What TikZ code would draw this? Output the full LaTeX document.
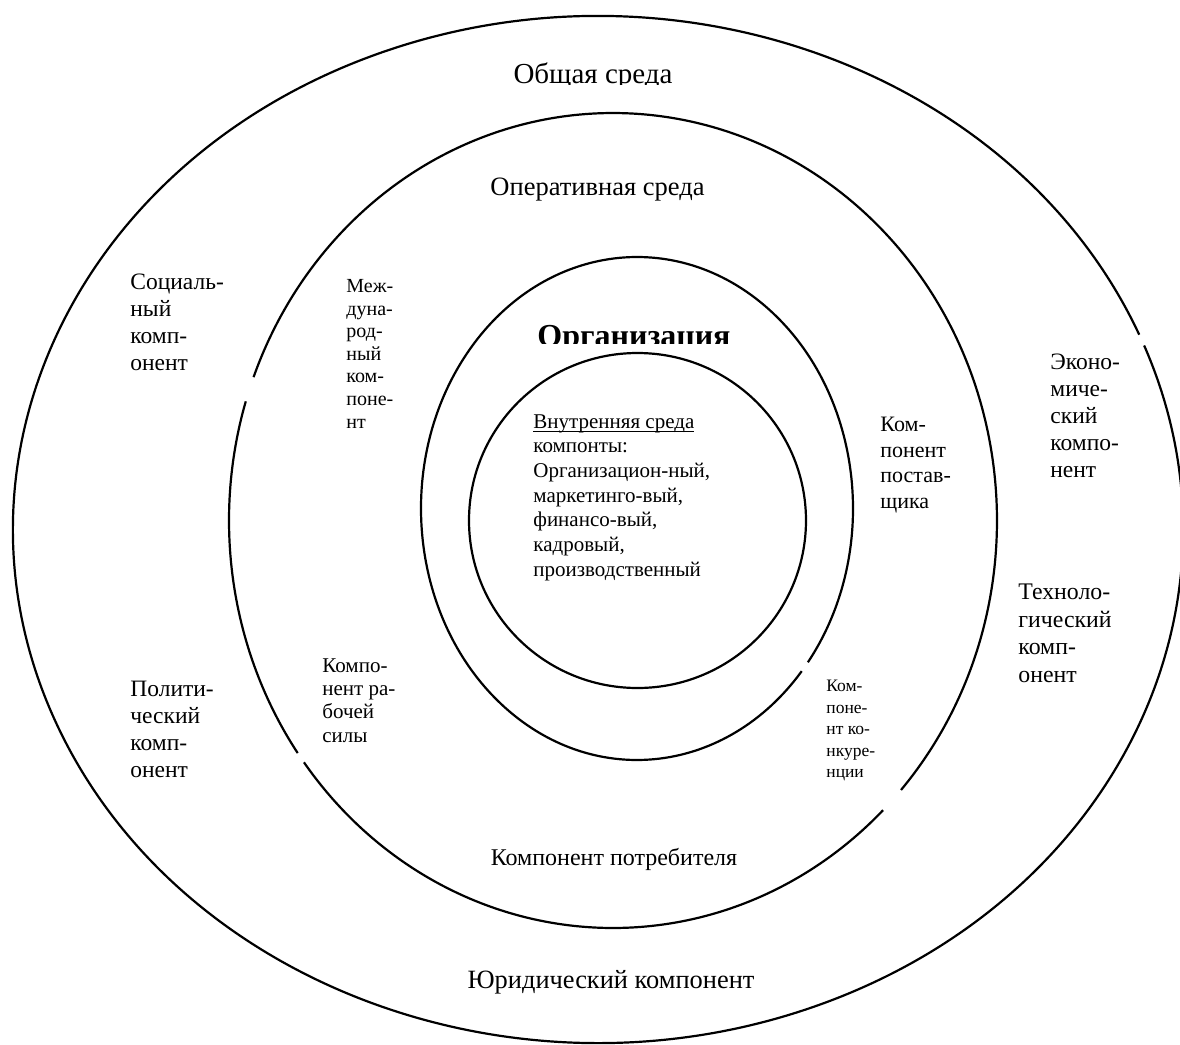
\documentclass[tikz,border=0pt]{standalone}
\usepackage{fontspec}
\setmainfont{Liberation Serif}
\usetikzlibrary{positioning}
\newcommand{\ulinetext}[1]{\setbox0\hbox{#1}\rlap{\rule[-0.2em]{\wd0}{0.06em}}\box0}

\begin{document}
\begin{tikzpicture}[x=0.5pt,y=0.5pt,
        ring/.style={line width=1.1pt},
        sidetext/.style={inner sep=0pt,align=left,anchor=north west},
        midtext/.style={inner sep=0pt,anchor=base}]
        \useasboundingbox (0,0) rectangle (1180,-1045);
        \coordinate (Cgen) at (598,-529.5);
        \coordinate (Cop) at (613,-520.5);
        \coordinate (Corg) at (637,-508.5);
        \coordinate (Cin) at (637.5,-520.5);
        % rings, with the small breaks of the original
        \draw[ring] ([shift={(Cgen)}]22.3:585 and 513.5) arc[start angle=22.3, end angle=381, x radius=585, y radius=513.5];
        \draw[ring] ([shift={(Cop)}]318.6:384 and 407.5) arc[start angle=318.6, end angle=519.4, x radius=384, y radius=407.5];
        \draw[ring] ([shift={(Cop)}]163:384 and 407.5) arc[start angle=163, end angle=214.8, x radius=384, y radius=407.5];
        \draw[ring] ([shift={(Cop)}]216.4:384 and 407.5) arc[start angle=216.4, end angle=314.7, x radius=384, y radius=407.5];
        \draw[ring] ([shift={(Corg)}]322.3:216 and 251.5) arc[start angle=322.3, end angle=679.7, x radius=216, y radius=251.5];
        \draw[ring] (Cin) ellipse[x radius=168.5, y radius=167.5];
        \begin{scope}
            \clip (400,-40) rectangle (800,-84);
            \node[midtext,font=\fontsize{14.5pt}{17pt}\selectfont] (gen) at (593,-83) {Общая среда};
        \end{scope}
        \begin{scope}
            \clip (480,-300) rectangle (780,-343);
            \node[midtext,font=\fontsize{16pt}{19pt}\selectfont\bfseries] (org) at (634,-346) {Организация};
        \end{scope}
        \node[midtext,font=\fontsize{13.25pt}{15pt}\selectfont] (oper) at (597.5,-195) {Оперативная среда};
        \node[midtext,font=\fontsize{12pt}{14pt}\selectfont] (cons) at (614,-865) {Компонент потребителя};
        \node[midtext,font=\fontsize{13.2pt}{15pt}\selectfont] (legal) at (611,-988) {Юридический компонент};
        \node[sidetext,font=\fontsize{11.75pt}{13.5pt}\selectfont] (soc) at (130,-274) {Социаль-\\ный\\комп-\\онент};
        \node[sidetext,font=\fontsize{11.75pt}{13.5pt}\selectfont] (pol) at (130,-681) {Полити-\\ческий\\комп-\\онент};
        \node[sidetext,font=\fontsize{11.75pt}{13.4pt}\selectfont] (econ) at (1050,-354) {Эконо-\\миче-\\ский\\компо-\\нент};
        \node[sidetext,font=\fontsize{11.9pt}{13.7pt}\selectfont] (tech) at (1018,-584) {Техноло-\\гический\\комп-\\онент};
        \node[sidetext,font=\fontsize{10pt}{11.3pt}\selectfont] (intl) at (346,-279) {Меж-\\дуна-\\род-\\ный\\ком-\\поне-\\нт};
        \node[sidetext,font=\fontsize{10.5pt}{11.65pt}\selectfont] (labour) at (322,-658) {Компо-\\нент ра-\\бочей\\силы};
        \node[sidetext,font=\fontsize{11pt}{12.75pt}\selectfont] (supp) at (880,-417) {Ком-\\понент\\постав-\\щика};
        \node[sidetext,font=\fontsize{8.75pt}{10.75pt}\selectfont] (comp) at (826,-680) {Ком-\\поне-\\нт ко-\\нкуре-\\нции};
        \node[sidetext,font=\fontsize{10.5pt}{12.35pt}\selectfont] (inner) at (533,-414) {\ulinetext{Внутренняя среда}\\компонты:\\Организацион-ный,\\маркетинго-вый,\\финансо-вый,\\кадровый,\\производственный};
\end{tikzpicture}
\end{document}
